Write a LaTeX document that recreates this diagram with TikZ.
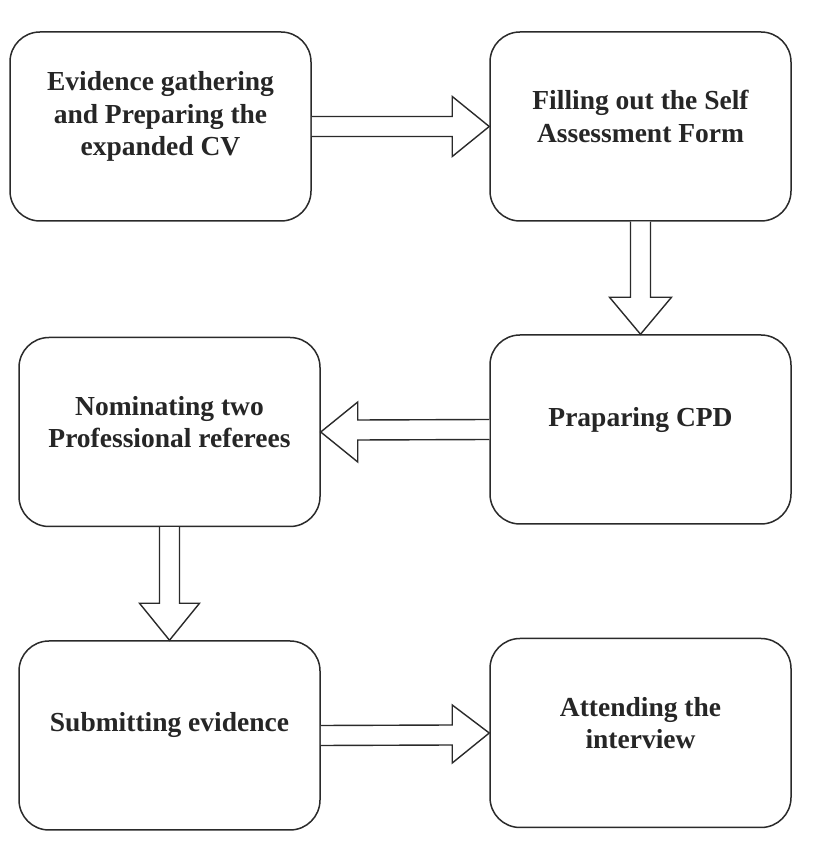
\documentclass[tikz,border=0pt]{standalone}
\usepackage{fontspec}
\setmainfont{Liberation Serif}
\usetikzlibrary{calc}
\definecolor{ln}{HTML}{2A2A2A}
\tikzset{
  box/.style={draw=ln, line width=1.5pt, rounded corners=30pt, minimum width=301pt, minimum height=189pt, inner sep=0pt, fill=white},
  txt/.style={align=center, text=black!85, font=\bfseries\fontsize{27.5}{32.5}\selectfont},
  barrow/.style={draw=ln, line width=1.4pt, fill=white, line join=miter}
}
\begin{document}
\begin{tikzpicture}[x=1pt,y=1pt]
\useasboundingbox (0,0) rectangle (812,844);
\node[box] (b1) at (160.5,717.5) {};
\node[box] (b2) at (640.5,717.5) {};
\node[box] (b3) at (640.5,414.5) {};
\node[box] (b4) at (169.5,412) {};
\node[box] (b5) at (169.5,108.5) {};
\node[box] (b6) at (640.5,111) {};
\node[txt] (t1) at ($(b1)+(0,10)$) {Evidence gathering\\and Preparing the\\expanded CV};
\node[txt] (t2) at ($(b2)+(0,10)$) {Filling out the Self\\Assessment Form};
\node[txt] (t3) at ($(b3)+(0,10)$) {Praparing CPD};
\node[txt] (t4) at ($(b4)+(0,10)$) {Nominating two\\Professional referees};
\node[txt] (t5) at ($(b5)+(0,11)$) {Submitting evidence};
\node[txt] (t6) at ($(b6)+(0,10)$) {Attending the\\interview};
% arrow 1: right
\draw[barrow] ($(b1.east)+(0,10)$) -- ($(b2.west)+(-37,10)$) -- ($(b2.west)+(-37,30)$) -- (b2.west) -- ($(b2.west)+(-37,-30)$) -- ($(b2.west)+(-37,-10)$) -- ($(b1.east)+(0,-10)$);
% arrow 2: down
\draw[barrow] ($(b2.south)+(-10,0)$) -- ($(b3.north)+(-10,37)$) -- ($(b3.north)+(-31,37)$) -- (b3.north) -- ($(b3.north)+(31,37)$) -- ($(b3.north)+(10,37)$) -- ($(b2.south)+(10,0)$);
% arrow 3: left
\draw[barrow] ($(b3.west)+(0,10)$) -- ($(b4.east)+(37,12)$) -- ($(b4.east)+(37,30)$) -- (b4.east) -- ($(b4.east)+(37,-30)$) -- ($(b4.east)+(37,-8)$) -- ($(b3.west)+(0,-10)$);
% arrow 4: down
\draw[barrow] ($(b4.south)+(-10,0)$) -- ($(b5.north)+(-10,37)$) -- ($(b5.north)+(-30,37)$) -- (b5.north) -- ($(b5.north)+(30,37)$) -- ($(b5.north)+(10,37)$) -- ($(b4.south)+(10,0)$);
% arrow 5: right
\draw[barrow] ($(b5.east)+(0,10)$) -- ($(b6.west)+(-37,8)$) -- ($(b6.west)+(-37,28)$) -- (b6.west) -- ($(b6.west)+(-37,-30)$) -- ($(b6.west)+(-37,-12)$) -- ($(b5.east)+(0,-10)$);
\end{tikzpicture}
\end{document}
